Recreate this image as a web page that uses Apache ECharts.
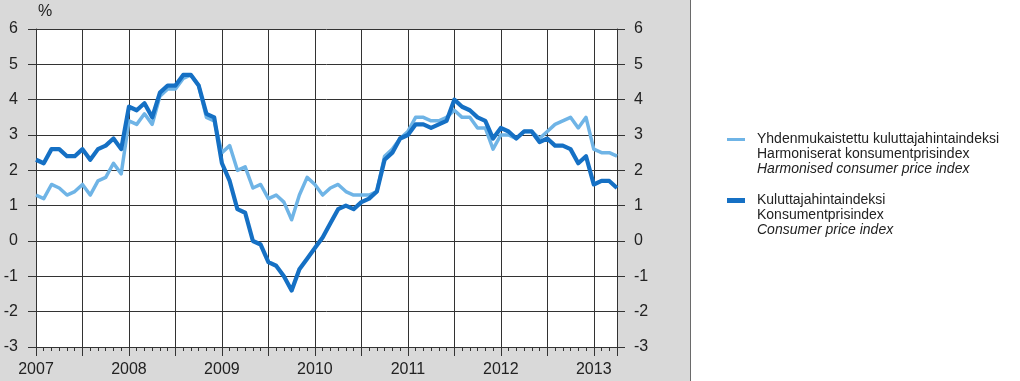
<!DOCTYPE html>
<html>
<head>
<meta charset="utf-8">
<script src="https://cdn.jsdelivr.net/npm/echarts@6/dist/echarts.min.js"></script>
<style>
html,body{margin:0;padding:0;background:#fff;}
#chart{width:1020px;height:381px;}
</style>
</head>
<body>
<div id="chart"></div>
<script>
// Monthly data, Jan 2007 .. Apr 2013 (annual change, %)
var yearLabels = ['2007','2008','2009','2010','2011','2012','2013'];
var yTicks = [-3,-2,-1,0,1,2,3,4,5,6];

var hicpName = 'Harmonised consumer price index';
var cpiName = 'Consumer price index';

var hicp = [
  1.3,1.2,1.6,1.5,1.3,1.4,1.6,1.3,1.7,1.8,2.2,1.9,
  3.4,3.3,3.6,3.3,4.1,4.3,4.3,4.6,4.7,4.4,3.5,3.4,
  2.5,2.7,2.0,2.1,1.5,1.6,1.2,1.3,1.1,0.6,1.3,1.8,
  1.6,1.3,1.5,1.6,1.4,1.3,1.3,1.3,1.4,2.4,2.6,2.9,
  3.1,3.5,3.5,3.4,3.4,3.5,3.7,3.5,3.5,3.2,3.2,2.6,
  3.0,3.0,2.9,3.1,3.1,2.9,3.1,3.3,3.4,3.5,3.2,3.5,
  2.6,2.5,2.5,2.4
];
var cpi = [
  2.3,2.2,2.6,2.6,2.4,2.4,2.6,2.3,2.6,2.7,2.9,2.6,
  3.8,3.7,3.9,3.5,4.2,4.4,4.4,4.7,4.7,4.4,3.6,3.5,
  2.2,1.7,0.9,0.8,0.0,-0.1,-0.6,-0.7,-1.0,-1.4,-0.8,-0.5,
  -0.2,0.1,0.5,0.9,1.0,0.9,1.1,1.2,1.4,2.3,2.5,2.9,
  3.0,3.3,3.3,3.2,3.3,3.4,4.0,3.8,3.7,3.5,3.4,2.9,
  3.2,3.1,2.9,3.1,3.1,2.8,2.9,2.7,2.7,2.6,2.2,2.4,
  1.6,1.7,1.7,1.5
];

function pairs(arr){ return arr.map(function(v,i){ return [i, v]; }); }

var FONT = "'Liberation Sans Narrow','Arial Narrow','Liberation Sans',sans-serif";
var TXT = '#222';
var GRID_TOP = 29, GRID_BOTTOM = 34, H = 381;

var legendRich = {
  n: {fontFamily: FONT, fontSize: 14, lineHeight: 15, color: TXT},
  i: {fontFamily: FONT, fontSize: 14, lineHeight: 15, color: TXT, fontStyle: 'italic'}
};

var chart = echarts.init(document.getElementById('chart'), null, {renderer: 'canvas'});
chart.setOption({
  animation: false,
  backgroundColor: '#ffffff',
  graphic: [
    {type: 'rect', z: -100, silent: true, shape: {x: 0, y: 0, width: 690, height: 381}, style: {fill: '#d9d9d9'}},
    {type: 'line', z: -99, silent: true, shape: {x1: 690.5, y1: 0, x2: 690.5, y2: 381}, style: {stroke: '#6a6a6a', lineWidth: 1}}
  ],
  grid: {left: 36, right: 403, top: GRID_TOP, bottom: GRID_BOTTOM, show: true, backgroundColor: '#ffffff', borderWidth: 0},
  legend: [
    {
      data: [hicpName], left: 727, top: 132.5, padding: 0, orient: 'vertical',
      icon: 'rect', itemWidth: 18, itemHeight: 3,
      textStyle: {padding: [30,0,0,7], rich: legendRich},
      formatter: function(){ return '{n|Yhdenmukaistettu kuluttajahintaindeksi}\n{n|Harmoniserat konsumentprisindex}\n{i|Harmonised consumer price index}'; }
    },
    {
      data: [cpiName], left: 727, top: 193.5, padding: 0, orient: 'vertical',
      icon: 'rect', itemWidth: 18, itemHeight: 5,
      textStyle: {padding: [30,0,0,7], rich: legendRich},
      formatter: function(){ return '{n|Kuluttajahintaindeksi}\n{n|Konsumentprisindex}\n{i|Consumer price index}'; }
    }
  ],
  xAxis: [
    {
      type: 'value', min: 0, max: 75, interval: 6, position: 'bottom',
      axisLine: {show: true, onZero: false, lineStyle: {color: '#333', width: 1}},
      axisTick: {show: true, length: 9, lineStyle: {color: '#333'}},
      splitLine: {show: true, lineStyle: {color: '#333', width: 1}},
      axisLabel: {
        margin: 15, fontFamily: FONT, fontSize: 16, color: TXT, showMaxLabel: true,
        formatter: function(v){ return (v % 12 === 0) ? yearLabels[v / 12] : ''; }
      }
    },
    {
      // monthly small ticks, moved from the top edge down onto the bottom axis line
      type: 'value', min: 0, max: 75, interval: 1, position: 'top',
      offset: -(H - GRID_TOP - GRID_BOTTOM),
      axisLine: {show: true, onZero: false, lineStyle: {color: '#333', width: 1}},
      axisTick: {show: true, inside: true, length: 4, lineStyle: {color: '#333', width: 1}},
      splitLine: {show: false},
      axisLabel: {show: false}
    }
  ],
  yAxis: [
    {
      type: 'value', min: yTicks[0], max: yTicks[yTicks.length-1], interval: 1, position: 'left',
      name: '%', nameLocation: 'end', nameGap: 9,
      nameTextStyle: {fontFamily: FONT, fontSize: 16, color: TXT, align: 'left', padding: [0,0,0,2]},
      axisLine: {show: true, onZero: false, lineStyle: {color: '#333', width: 1}},
      axisTick: {show: true, length: 8, lineStyle: {color: '#333'}},
      splitLine: {show: true, lineStyle: {color: '#333', width: 1}},
      axisLabel: {margin: 18, fontFamily: FONT, fontSize: 16, color: TXT}
    },
    {
      type: 'value', min: yTicks[0], max: yTicks[yTicks.length-1], interval: 1, position: 'right',
      axisLine: {show: true, onZero: false, lineStyle: {color: '#333', width: 1}},
      axisTick: {show: true, length: 8, lineStyle: {color: '#333'}},
      splitLine: {show: false},
      axisLabel: {margin: 17, fontFamily: FONT, fontSize: 16, color: TXT}
    }
  ],
  series: [
    {
      name: hicpName, type: 'line', data: pairs(hicp), showSymbol: false, symbol: 'none',
      lineStyle: {color: '#6fb4e6', width: 3.5, join: 'round'}, itemStyle: {color: '#6fb4e6'}, z: 2
    },
    {
      name: cpiName, type: 'line', data: pairs(cpi), showSymbol: false, symbol: 'none',
      lineStyle: {color: '#1570c4', width: 4.2, join: 'round'}, itemStyle: {color: '#1570c4'}, z: 3
    }
  ]
});
</script>
</body>
</html>
